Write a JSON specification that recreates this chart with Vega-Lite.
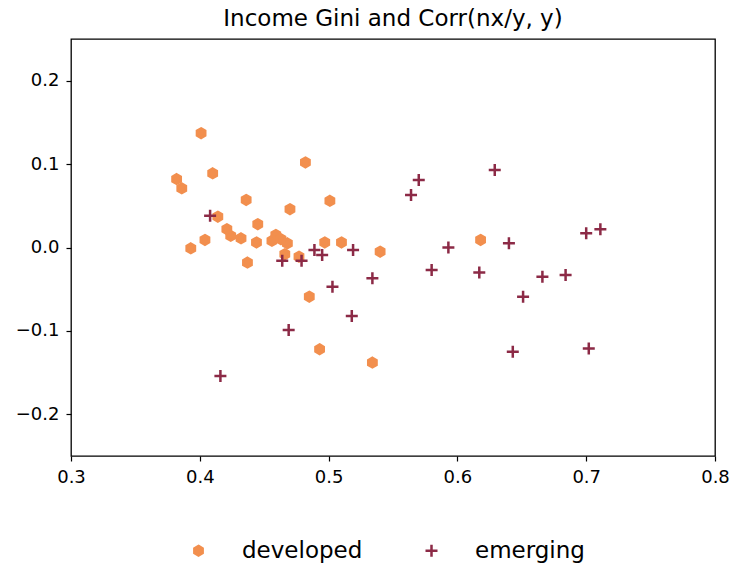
{
  "$schema": "https://vega.github.io/schema/vega-lite/v6.json",
  "width": 644,
  "height": 417,
  "autosize": {"type": "none"},
  "padding": {"left": 71, "top": 39, "right": 16, "bottom": 111},
  "background": "white",
  "title": {
    "text": "Income Gini and Corr(nx/y, y)",
    "font": "DejaVu Sans",
    "fontSize": 23,
    "fontWeight": "normal",
    "color": "black",
    "anchor": "middle",
    "offset": 8
  },
  "config": {
    "font": "DejaVu Sans",
    "view": {"stroke": "black", "strokeWidth": 1.3},
    "axis": {
      "domain": false,
      "grid": false,
      "ticks": true,
      "tickColor": "black",
      "tickSize": 5,
      "tickWidth": 1.2,
      "labelFont": "DejaVu Sans",
      "labelFontSize": 18,
      "labelColor": "black",
      "labelFlush": false,
      "labelOverlap": false,
      "title": null
    },
    "legend": {
      "labelFont": "DejaVu Sans",
      "labelFontSize": 23,
      "labelColor": "black",
      "symbolSize": 144,
      "symbolStrokeWidth": 2.5,
      "symbolOpacity": 1
    }
  },
  "data": {
    "values": [
      {"gini": 0.401, "corr": 0.137, "group": "developed"},
      {"gini": 0.482, "corr": 0.102, "group": "developed"},
      {"gini": 0.382, "corr": 0.082, "group": "developed"},
      {"gini": 0.386, "corr": 0.071, "group": "developed"},
      {"gini": 0.410, "corr": 0.089, "group": "developed"},
      {"gini": 0.436, "corr": 0.057, "group": "developed"},
      {"gini": 0.470, "corr": 0.046, "group": "developed"},
      {"gini": 0.501, "corr": 0.056, "group": "developed"},
      {"gini": 0.414, "corr": 0.037, "group": "developed"},
      {"gini": 0.445, "corr": 0.028, "group": "developed"},
      {"gini": 0.421, "corr": 0.022, "group": "developed"},
      {"gini": 0.424, "corr": 0.014, "group": "developed"},
      {"gini": 0.432, "corr": 0.011, "group": "developed"},
      {"gini": 0.404, "corr": 0.009, "group": "developed"},
      {"gini": 0.393, "corr": -0.001, "group": "developed"},
      {"gini": 0.444, "corr": 0.006, "group": "developed"},
      {"gini": 0.459, "corr": 0.015, "group": "developed"},
      {"gini": 0.456, "corr": 0.008, "group": "developed"},
      {"gini": 0.463, "corr": 0.010, "group": "developed"},
      {"gini": 0.468, "corr": 0.005, "group": "developed"},
      {"gini": 0.466, "corr": -0.008, "group": "developed"},
      {"gini": 0.477, "corr": -0.011, "group": "developed"},
      {"gini": 0.497, "corr": 0.006, "group": "developed"},
      {"gini": 0.510, "corr": 0.006, "group": "developed"},
      {"gini": 0.540, "corr": -0.005, "group": "developed"},
      {"gini": 0.437, "corr": -0.018, "group": "developed"},
      {"gini": 0.485, "corr": -0.059, "group": "developed"},
      {"gini": 0.493, "corr": -0.122, "group": "developed"},
      {"gini": 0.534, "corr": -0.138, "group": "developed"},
      {"gini": 0.618, "corr": 0.009, "group": "developed"},
      {"gini": 0.408, "corr": 0.038, "group": "emerging"},
      {"gini": 0.464, "corr": -0.016, "group": "emerging"},
      {"gini": 0.479, "corr": -0.016, "group": "emerging"},
      {"gini": 0.489, "corr": -0.003, "group": "emerging"},
      {"gini": 0.495, "corr": -0.009, "group": "emerging"},
      {"gini": 0.519, "corr": -0.003, "group": "emerging"},
      {"gini": 0.534, "corr": -0.037, "group": "emerging"},
      {"gini": 0.503, "corr": -0.047, "group": "emerging"},
      {"gini": 0.518, "corr": -0.082, "group": "emerging"},
      {"gini": 0.469, "corr": -0.099, "group": "emerging"},
      {"gini": 0.570, "corr": 0.081, "group": "emerging"},
      {"gini": 0.564, "corr": 0.063, "group": "emerging"},
      {"gini": 0.580, "corr": -0.027, "group": "emerging"},
      {"gini": 0.416, "corr": -0.154, "group": "emerging"},
      {"gini": 0.629, "corr": 0.093, "group": "emerging"},
      {"gini": 0.593, "corr": 0.000, "group": "emerging"},
      {"gini": 0.617, "corr": -0.030, "group": "emerging"},
      {"gini": 0.640, "corr": 0.005, "group": "emerging"},
      {"gini": 0.666, "corr": -0.035, "group": "emerging"},
      {"gini": 0.684, "corr": -0.033, "group": "emerging"},
      {"gini": 0.651, "corr": -0.059, "group": "emerging"},
      {"gini": 0.700, "corr": 0.017, "group": "emerging"},
      {"gini": 0.711, "corr": 0.022, "group": "emerging"},
      {"gini": 0.643, "corr": -0.125, "group": "emerging"},
      {"gini": 0.702, "corr": -0.121, "group": "emerging"}
    ]
  },
  "mark": {"type": "point", "filled": true, "opacity": 1, "strokeWidth": 2.5, "size": 144},
  "encoding": {
    "x": {
      "field": "gini",
      "type": "quantitative",
      "scale": {"domain": [0.3, 0.8], "nice": false, "zero": false},
      "axis": {"values": [0.3, 0.4, 0.5, 0.6, 0.7, 0.8], "format": ".1f", "labelPadding": 7}
    },
    "y": {
      "field": "corr",
      "type": "quantitative",
      "scale": {"domain": [-0.25, 0.25], "nice": false, "zero": false},
      "axis": {"values": [-0.2, -0.1, 0, 0.1, 0.2], "format": ".1f", "labelPadding": 7}
    },
    "color": {
      "field": "group",
      "type": "nominal",
      "scale": {"domain": ["developed", "emerging"], "range": ["#F28F4E", "#8C2A46"]},
      "legend": {
        "title": null,
        "orient": "none",
        "direction": "horizontal",
        "legendX": 116,
        "legendY": 500,
        "labelOffset": 32,
        "columnPadding": 57
      }
    },
    "stroke": {
      "field": "group",
      "type": "nominal",
      "scale": {"domain": ["developed", "emerging"], "range": ["#F28F4E", "#8C2A46"]}
    },
    "shape": {
      "field": "group",
      "type": "nominal",
      "scale": {
        "domain": ["developed", "emerging"],
        "range": [
          "M0,-0.8L0.693,-0.4L0.693,0.4L0,0.8L-0.693,0.4L-0.693,-0.4Z",
          "M-1,0L1,0M0,-1L0,1"
        ]
      }
    }
  }
}
